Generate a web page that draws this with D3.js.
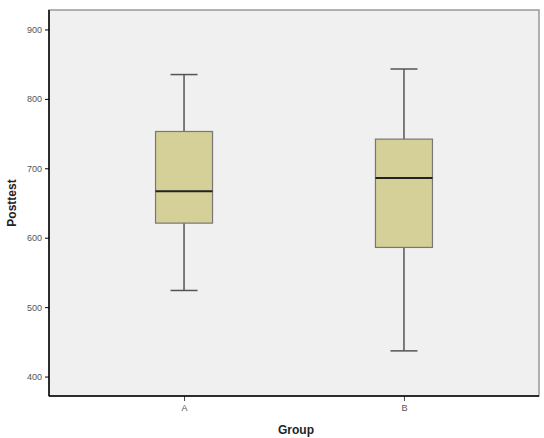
<!DOCTYPE html>
<html>
<head>
<meta charset="utf-8">
<script src="https://cdn.jsdelivr.net/npm/d3@7"></script>
<style>
body { margin: 0; background: #fff; }
text { font-family: Arial, "Liberation Sans", sans-serif; }
</style>
</head>
<body>
<svg id="chart" width="544" height="438"></svg>
<script>
var groups = ["A", "B"];
var whiskerLow = [524, 437];
var q1 = [621, 586];
var median = [667, 686];
var q3 = [753, 742];
var whiskerHigh = [835, 843];
var yTicks = [400, 500, 600, 700, 800, 900];

var svg = d3.select("#chart");
var plotL = 49, plotT = 10, plotR = 539, plotB = 396;

var x = d3.scalePoint().domain(groups).range([plotL, plotR]).padding(0.614);
var y = d3.scaleLinear().domain([372, 928]).range([plotB, plotT]);

// plot background
svg.append("rect").attr("x", plotL).attr("y", plotT).attr("width", plotR - plotL).attr("height", plotB - plotT)
  .style("fill", "#f0f0f0").style("stroke", "#999").style("stroke-width", 1.5);

var boxW = 57, capW = 27;

groups.forEach(function(g, i) {
  var cx = x(g);
  var gg = svg.append("g");
  gg.append("line").attr("x1", cx).attr("x2", cx).attr("y1", y(whiskerHigh[i])).attr("y2", y(whiskerLow[i]))
    .style("stroke", "#555").style("stroke-width", 1.5);
  gg.append("line").attr("x1", cx - capW / 2).attr("x2", cx + capW / 2).attr("y1", y(whiskerHigh[i])).attr("y2", y(whiskerHigh[i]))
    .style("stroke", "#555").style("stroke-width", 1.5);
  gg.append("line").attr("x1", cx - capW / 2).attr("x2", cx + capW / 2).attr("y1", y(whiskerLow[i])).attr("y2", y(whiskerLow[i]))
    .style("stroke", "#555").style("stroke-width", 1.5);
  gg.append("rect").attr("x", cx - boxW / 2).attr("y", y(q3[i])).attr("width", boxW).attr("height", y(q1[i]) - y(q3[i]))
    .style("fill", "#d4d097").style("stroke", "#777").style("stroke-width", 1.2);
  gg.append("line").attr("x1", cx - boxW / 2).attr("x2", cx + boxW / 2).attr("y1", y(median[i])).attr("y2", y(median[i]))
    .style("stroke", "#222").style("stroke-width", 2);
});

var yAxis = svg.append("g").attr("transform", "translate(" + plotL + ",0)")
  .call(d3.axisLeft(y).tickValues(yTicks).tickSize(4).tickPadding(3).tickFormat(d3.format("d")));
yAxis.select(".domain").remove();
yAxis.selectAll("text").style("font-size", "9px").style("fill", "#555");
yAxis.selectAll("line").style("stroke", "#000");

var xAxis = svg.append("g").attr("transform", "translate(0," + plotB + ")")
  .call(d3.axisBottom(x).tickSize(5).tickPadding(4));
xAxis.select(".domain").remove();
xAxis.selectAll("text").style("font-size", "9px").style("fill", "#555");
xAxis.selectAll("line").style("stroke", "#444");

// axis lines
svg.append("line").attr("x1", plotL).attr("x2", plotL).attr("y1", plotT).attr("y2", plotB).style("stroke", "#000").style("stroke-width", 1.5);
svg.append("line").attr("x1", plotL).attr("x2", plotR).attr("y1", plotB).attr("y2", plotB).style("stroke", "#000").style("stroke-width", 1.5);

svg.append("text").attr("x", (plotL + plotR) / 2 + 2).attr("y", 434).attr("text-anchor", "middle")
  .style("font-size", "12px").style("font-weight", "bold").style("fill", "#222").text("Group");
svg.append("text").attr("transform", "translate(16," + (plotT + plotB) / 2 + ") rotate(-90)").attr("text-anchor", "middle")
  .style("font-size", "12px").style("font-weight", "bold").style("fill", "#222").text("Posttest");
</script>
</body>
</html>
